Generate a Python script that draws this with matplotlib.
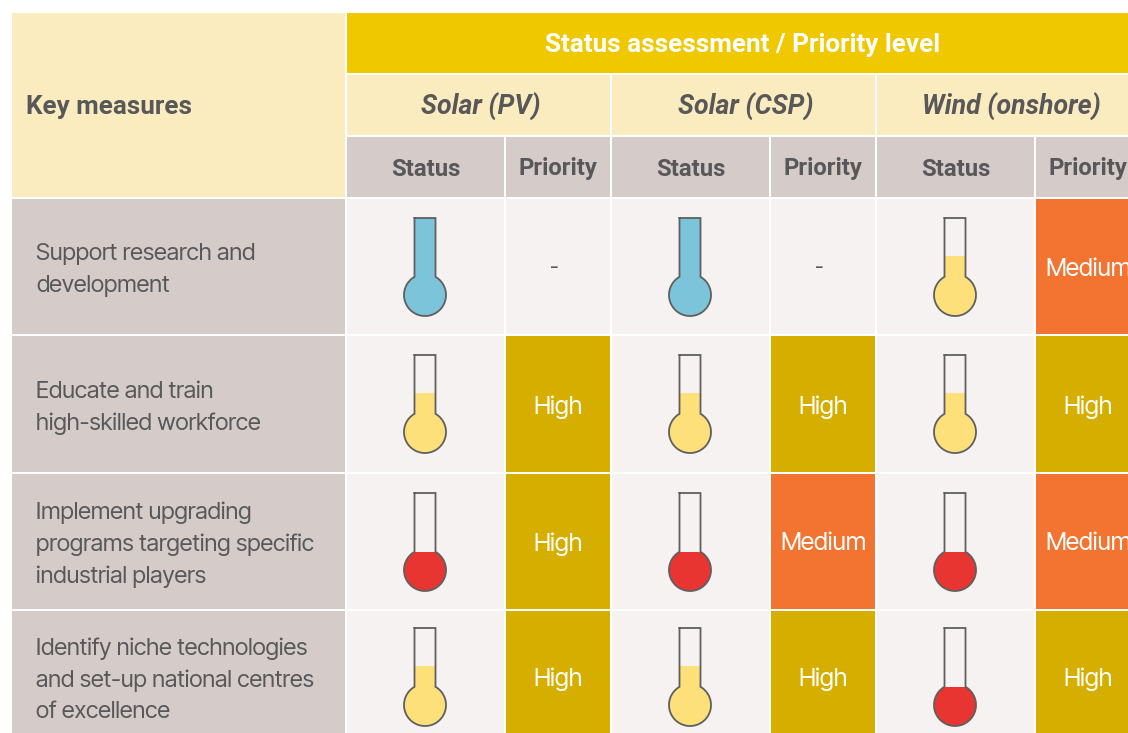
import matplotlib.pyplot as plt
from matplotlib.patches import Rectangle, Circle
import numpy as np

plt.rcParams['font.family'] = ['Inter Tight', 'Inter', 'DejaVu Sans']
bold_font = ['Roboto', 'DejaVu Sans']

# Table content
header = 'Status assessment / Priority level'
corner = 'Key measures'
technologies = ['Solar (PV)', 'Solar (CSP)', 'Wind (onshore)']
measures = ['Support research and\ndevelopment',
            'Educate and train\nhigh-skilled workforce',
            'Implement upgrading\nprograms targeting specific\nindustrial players',
            'Identify niche technologies\nand set-up national centres\nof excellence']
# status: full / half / low, one row per measure
status = [['full', 'full', 'half'],
          ['half', 'half', 'half'],
          ['low', 'low', 'low'],
          ['half', 'half', 'low']]
priority = [['-', '-', 'Medium'],
            ['High', 'High', 'High'],
            ['High', 'Medium', 'Medium'],
            ['High', 'High', 'High']]

# Colours
cream = '#fbecbf'
gold = '#efc800'
taupe = '#d5cbc8'
pale = '#f5f2f1'
text_grey = '#58585a'
status_fill = {'full': '#7cc4da', 'half': '#fde07a', 'low': '#e83532'}
priority_fill = {'High': '#d6ae00', 'Medium': '#f27430', '-': pale}

# Grid edges in pixels
col_left = [347, 612, 877]
status_w = 157
prio_left = [506, 771, 1036]
prio_w = [104, 104, 92]
row_top = [199, 336, 474, 611]
row_h = [135, 136, 135, 122]
therm_off = [19, 19, 19, 17]
text_y = [270, 408, 545, 680]
prio_y = [270, 407, 544, 679]

fig = plt.figure(figsize=(11.28, 7.33), dpi=100)
ax = fig.add_axes([0, 0, 1, 1])
ax.set_xlim(0, 1128)
ax.set_ylim(733, 0)
ax.axis('off')


def cell(x, y, w, h, color):
    ax.add_patch(Rectangle((x, y), w, h, facecolor=color, edgecolor='none'))


def thermometer(cx, top, level):
    hw = 10.5
    r = 21
    cy = top + 77
    neck = cy - np.sqrt(r**2 - hw**2)
    fill = status_fill[level]
    # liquid height depends on level
    if level == 'full':
        liquid = top
    elif level == 'half':
        liquid = top + 38
    else:
        liquid = neck
    ax.add_patch(Rectangle((cx - hw, liquid), 2 * hw, neck - liquid + 2, facecolor=fill, edgecolor='none', zorder=2))
    bulb = Circle((cx, cy), r, facecolor=fill, edgecolor='none', zorder=2)
    ax.add_patch(bulb)
    # bulb top is cut flat at the neck
    bulb.set_clip_path(Rectangle((cx - r - 1, neck), 2 * r + 2, 2 * r + 2, transform=ax.transData))
    # outline: tube plus bulb, going round under the bulb from the right neck point
    ang = np.arctan2(hw, cy - neck)
    t = np.linspace(np.pi / 2 - ang, -3 * np.pi / 2 + ang, 80)
    xs = cx + r * np.cos(t)
    ys = cy - r * np.sin(t)
    px = np.concatenate([[cx - hw, cx + hw], xs, [cx - hw]])
    py = np.concatenate([[top, top], ys, [top]])
    ax.plot(px, py, color='#5f5f5f', lw=1.3, zorder=3, solid_joinstyle='miter')


# Header block
cell(12, 13, 333, 184, cream)
ax.text(26, 107, corner, fontsize=18.7, fontweight='bold', family=bold_font, color=text_grey, va='center')
cell(347, 13, 781, 60, gold)
ax.text(743, 45, header, fontsize=18.8, fontweight='bold', family=bold_font, color='white', ha='center', va='center')

for i, tech in enumerate(technologies):
    w = status_w + 2 + prio_w[i]
    cell(col_left[i], 75, w, 60, cream)
    ax.text(col_left[i] + 134, 107, tech, fontsize=19.3, fontweight='bold', style='italic', family=bold_font,
            color=text_grey, ha='center', va='center')
    cell(col_left[i], 137, status_w, 60, taupe)
    cell(prio_left[i], 137, prio_w[i], 60, taupe)
    ax.text(col_left[i] + status_w / 2, 169, 'Status', fontsize=17.2, fontweight='bold', family=bold_font,
            color=text_grey, ha='center', va='center')
    ax.text(prio_left[i] + 52, 169, 'Priority', fontsize=17.2, fontweight='bold', family=bold_font,
            color=text_grey, ha='center', va='center')

# Body rows
for r, m in enumerate(measures):
    y = row_top[r]
    h = row_h[r]
    cell(12, y, 333, h, taupe)
    ax.text(36, text_y[r], m, fontsize=17, color=text_grey, va='center', linespacing=1.53)
    for i in range(3):
        cell(col_left[i], y, status_w, h, pale)
        thermometer(col_left[i] + 78, y + therm_off[r], status[r][i])
        p = priority[r][i]
        cell(prio_left[i], y, prio_w[i], h, priority_fill[p])
        if p == '-':
            ax.text(prio_left[i] + 48, prio_y[r] - 2, p, fontsize=15, color=text_grey, ha='center', va='center')
        else:
            ax.text(prio_left[i] + 52, prio_y[r], p, fontsize=17.8, color='white', ha='center', va='center')

fig.savefig('out.png', dpi=100, facecolor='white')
